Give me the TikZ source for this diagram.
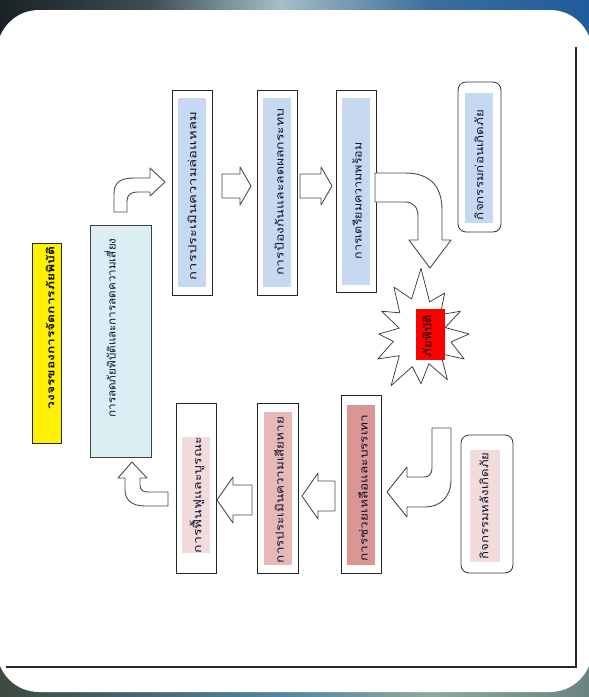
\documentclass[tikz,border=0pt]{standalone}
\usepackage{fontspec}
\usepackage{graphicx}
\newfontfamily\thai[Script=Thai]{Loma}
\definecolor{ltblue}{HTML}{C6D9F1}
\definecolor{bigblue}{HTML}{DBEEF4}
\definecolor{pinkA}{HTML}{F2DCDB}
\definecolor{pinkB}{HTML}{E6B9B8}
\definecolor{pinkC}{HTML}{D99694}
\definecolor{txt}{HTML}{121230}
\definecolor{bgA}{HTML}{1A2224}
\definecolor{bgB}{HTML}{3E4E54}
\definecolor{bgC}{HTML}{A6BEC6}
\definecolor{bgD}{HTML}{3C6E9C}
\definecolor{bgE}{HTML}{1F5C9C}
\definecolor{bgF}{HTML}{3E4A40}
\definecolor{bgG}{HTML}{4F86A4}
\definecolor{bgH}{HTML}{8FA89C}
\definecolor{bgI}{HTML}{6A8482}
\newcommand\fitt[2]{\resizebox{#1pt}{\height}{#2}}
\begin{document}
\begin{tikzpicture}[x=1pt,y=-1pt,
  box/.style={draw=black!85, line width=0.9pt, inner sep=0pt},
  hl/.style={draw=none, inner sep=0pt},
  arr/.style={draw=black!70, fill=white, line width=0.9pt, line join=round},
  lbl/.style={rotate=90, inner sep=0pt, font=\thai\fontsize{11}{13}\selectfont, text=txt},
]
\useasboundingbox (0,0) rectangle (589,697);
% background photo-like bands
\shade[left color=bgA, right color=bgB] (0,0) rectangle (150,80);
\shade[left color=bgB, right color=bgC] (150,0) rectangle (280,80);
\shade[left color=bgC, right color=bgD] (280,0) rectangle (430,80);
\shade[left color=bgD, right color=bgE] (430,0) rectangle (589,80);
\shade[left color=bgF, right color=bgG] (0,620) rectangle (280,697);
\shade[left color=bgG, right color=bgH] (280,620) rectangle (430,697);
\shade[left color=bgH, right color=bgI] (430,620) rectangle (589,697);
\fill[bgA] (0,80) rectangle (20,620);
\fill[bgE] (569,80) rectangle (589,620);
% white card
\fill[white, rounded corners=42pt] (-3,10) rectangle (592,692);
% inner frame
\draw[black!85, line width=1.1pt] (6,667) -- (576,667) -- (576,47);

% title
\node[box, fill=yellow, minimum width=29pt, minimum height=200pt] (ttlbox) at (46.5,343) {};
\node[lbl, font=\thai\bfseries\fontsize{10.5}{12}\selectfont, text=black] (ttl) at (50,328) {\fitt{163}{วงจรของการจัดการภัยพิบัติ}};

% big box
\node[box, draw=black!75, fill=bigblue, minimum width=61pt, minimum height=232pt] (big) at (120.5,341) {};
\node[lbl] (bigt) at (110,328) {\fitt{179}{การลดภัยพิบัติและการลดความเสี่ยง}};

% top row boxes
\node[box, fill=white, minimum width=40pt, minimum height=205pt] (b1) at (192,192.5) {};
\node[hl, fill=ltblue, minimum width=28pt, minimum height=189pt] (f1) at (192,192.5) {};
\node[lbl] (t1) at (192,196) {\fitt{168}{การประเมินความล่อแหลม}};

\node[box, fill=white, minimum width=40pt, minimum height=205pt] (b2) at (277,192.5) {};
\node[hl, fill=ltblue, minimum width=28pt, minimum height=189pt] (f2) at (277,192.5) {};
\node[lbl] (t2) at (279,192) {\fitt{167}{การป้องกันและลดผลกระทบ}};

\node[box, fill=white, minimum width=40pt, minimum height=202pt] (b3) at (356,191) {};
\node[hl, fill=ltblue, minimum width=28pt, minimum height=187pt] (f3) at (356,191.5) {};
\node[lbl] (t3) at (357,201) {\fitt{117}{การเตรียมความพร้อม}};

% bottom row boxes
\node[box, fill=white, minimum width=40pt, minimum height=170pt] (b4) at (196,488) {};
\node[hl, fill=pinkA, minimum width=28pt, minimum height=116pt] (f4) at (196,495) {};
\node[lbl] (t4) at (197,495) {\fitt{116}{การฟื้นฟูและบูรณะ}};

\node[box, fill=white, minimum width=41pt, minimum height=170pt] (b5) at (277.5,488) {};
\node[hl, fill=pinkB, minimum width=28pt, minimum height=153pt] (f5) at (277.5,488.5) {};
\node[lbl] (t5) at (279,490) {\fitt{146}{การประเมินความเสียหาย}};

\node[box, fill=white, minimum width=40pt, minimum height=178pt] (b6) at (361,484) {};
\node[hl, fill=pinkC, minimum width=28pt, minimum height=160pt] (f6) at (361,485) {};
\node[lbl] (t6) at (363,488) {\fitt{147}{การช่วยเหลือและบรรเทา}};

% phase labels
\node[box, draw=black!80, line width=0.8pt, rounded corners=8pt, fill=white, minimum width=43pt, minimum height=150pt] (pre) at (479.5,157) {};
\node[hl, fill=ltblue, minimum width=28pt, minimum height=130pt] (pref) at (479,158) {};
\node[lbl] (pret) at (479,165) {\fitt{110}{กิจกรรมก่อนเกิดภัย}};

\node[box, draw=black!80, line width=0.8pt, rounded corners=8pt, fill=white, minimum width=52pt, minimum height=138pt] (post) at (487,504) {};
\node[hl, fill=pinkA, minimum width=30pt, minimum height=112pt] (postf) at (485,506) {};
\node[lbl] (postt) at (484,506) {\fitt{107}{กิจกรรมหลังเกิดภัย}};

% explosion
\begin{scope}[shift={(421,334)}]
\draw[arr, draw=black!80, line width=0.7pt] plot[samples at={0,15,...,345}]
  (\x:{ifthenelse(mod(\x,30)==0,1,0.58)*(1+0.10*sin(3*\x+40)+0.06*sin(7*\x))*sqrt(1/((cos(\x)/45)^2+(sin(\x)/57)^2))}) -- cycle;
\end{scope}
\node[hl, fill=red, minimum width=29pt, minimum height=51pt] (dis) at (430.5,334.5) {};
\node[lbl, text=black] (dist) at (427,336) {\fitt{42}{ภัยพิบัติ}};

% block arrows
\draw[arr] (114,212) -- (114,194) .. controls (114,181) and (122,178) .. (135,178) -- (150,178) -- (150,168) -- (165,182) -- (150,196) -- (150,192) -- (137,192) .. controls (131,192) and (127,195) .. (127,201) -- (127,212) -- cycle;
\draw[arr] (222,174) -- (240,174) -- (240,167) -- (251,186) -- (240,205) -- (240,198) -- (222,198) -- cycle;
\draw[arr] (300,174) -- (321,174) -- (321,167) -- (332,186) -- (321,205) -- (321,198) -- (300,198) -- cycle;
\draw[arr] (375,173) -- (405,173) .. controls (430,173) and (442,186) .. (442,210) -- (442,240) -- (451,240) -- (430,268) -- (409,240) -- (418,240) -- (418,216) .. controls (418,207) and (413,202) .. (405,202) -- (375,202) -- cycle;
\draw[arr] (432,428) -- (451,428) -- (451,480) .. controls (451,497) and (440,507) .. (425,507) -- (407,507) -- (407,517) -- (387,492) -- (407,467) -- (407,477) -- (424,477) .. controls (429,477) and (432,474) .. (432,468) -- cycle;
\draw[arr] (335,481) -- (318,481) -- (318,473) -- (302,496) -- (318,519) -- (318,511) -- (335,511) -- cycle;
\draw[arr] (252,485) -- (233,485) -- (233,477) -- (217,500) -- (233,523) -- (233,515) -- (252,515) -- cycle;
\draw[arr] (132,462) -- (147,478) -- (140,478) -- (140,485) .. controls (140,490) and (143,492) .. (148,492) -- (168,492) -- (168,506) -- (145,506) .. controls (132,506) and (125,500) .. (125,490) -- (125,478) -- (118,478) -- cycle;
\end{tikzpicture}
\end{document}
